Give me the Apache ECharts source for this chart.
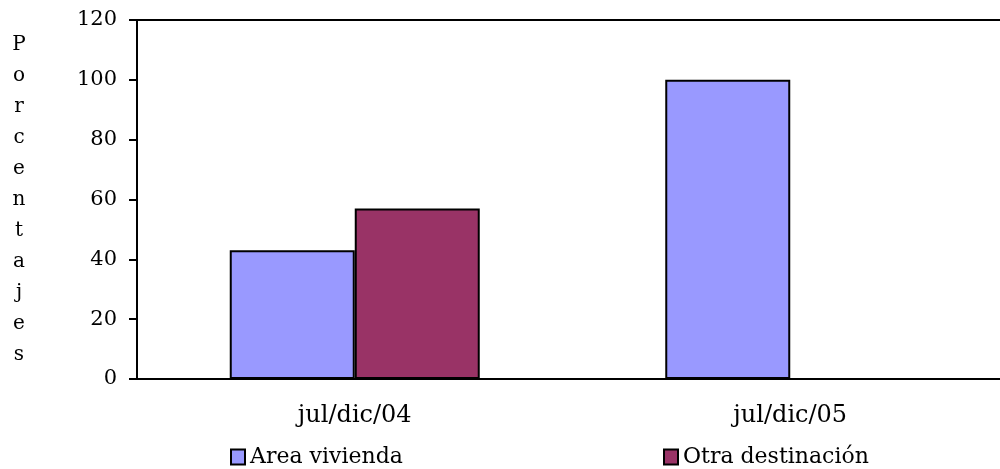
<!DOCTYPE html>
<html>
<head>
<meta charset="utf-8">
<script src="https://cdn.jsdelivr.net/npm/echarts@6/dist/echarts.min.js"></script>
<style>html,body{margin:0;padding:0;background:#fff;}#c{width:1000px;height:469px;}</style>
</head>
<body>
<div id="c"></div>
<script>
const categories = ['jul/dic/04', 'jul/dic/05'];
const areaVivienda = [43, 100];
const otraDestinacion = [57, 0];
const seriesNames = ['Area vivienda', 'Otra destinación'];
const yAxisTitle = 'Porcentajes';

const chart = echarts.init(document.getElementById('c'), null, {renderer: 'canvas'});
const serif = '"DejaVu Serif", serif';
chart.setOption({
  animation: false,
  backgroundColor: '#fff',
  grid: {left: 137, top: 20, width: 871, height: 359, outerBoundsMode: 'none', containLabel: false,
         show: true, borderColor: '#000', borderWidth: 2, backgroundColor: 'transparent'},
  legend: [
    {data: [seriesNames[0]], left: 230, top: 446, padding: 0, icon: 'rect', itemWidth: 14, itemHeight: 15, itemGap: 6,
     itemStyle: {borderColor: '#000', borderWidth: 2},
     textStyle: {fontFamily: serif, fontSize: 22, color: '#000'}},
    {data: [seriesNames[1]], left: 663, top: 446, padding: 0, icon: 'rect', itemWidth: 14, itemHeight: 15, itemGap: 6,
     itemStyle: {borderColor: '#000', borderWidth: 2},
     textStyle: {fontFamily: serif, fontSize: 22, color: '#000'}}
  ],
  xAxis: {
    type: 'category', data: categories,
    axisLine: {lineStyle: {color: '#000', width: 2}},
    axisTick: {show: false},
    axisLabel: {color: '#000', fontFamily: serif, fontSize: 24, margin: 25}
  },
  yAxis: {
    type: 'value', min: 0, max: 120, interval: 20,
    name: yAxisTitle.split('').join('\n'),
    nameLocation: 'middle', nameGap: 118, nameRotate: 0,
    nameTextStyle: {fontFamily: serif, fontSize: 20, color: '#000', lineHeight: 31, align: 'center', padding: [0, 0, 18, 0]},
    axisLine: {show: true, lineStyle: {color: '#000', width: 2}},
    axisTick: {show: true, length: 8, lineStyle: {color: '#000', width: 2}},
    splitLine: {show: false},
    axisLabel: {color: '#000', fontFamily: serif, fontSize: 21, margin: 20}
  },
  series: [
    {name: seriesNames[0], type: 'bar', data: areaVivienda, barWidth: 125, barGap: '0%',
     itemStyle: {color: '#9999FF', borderColor: '#000', borderWidth: 2}},
    {name: seriesNames[1], type: 'bar', data: otraDestinacion, barWidth: 125, barGap: '0%',
     itemStyle: {color: '#993366', borderColor: '#000', borderWidth: 2}}
  ]
});
</script>
</body>
</html>
